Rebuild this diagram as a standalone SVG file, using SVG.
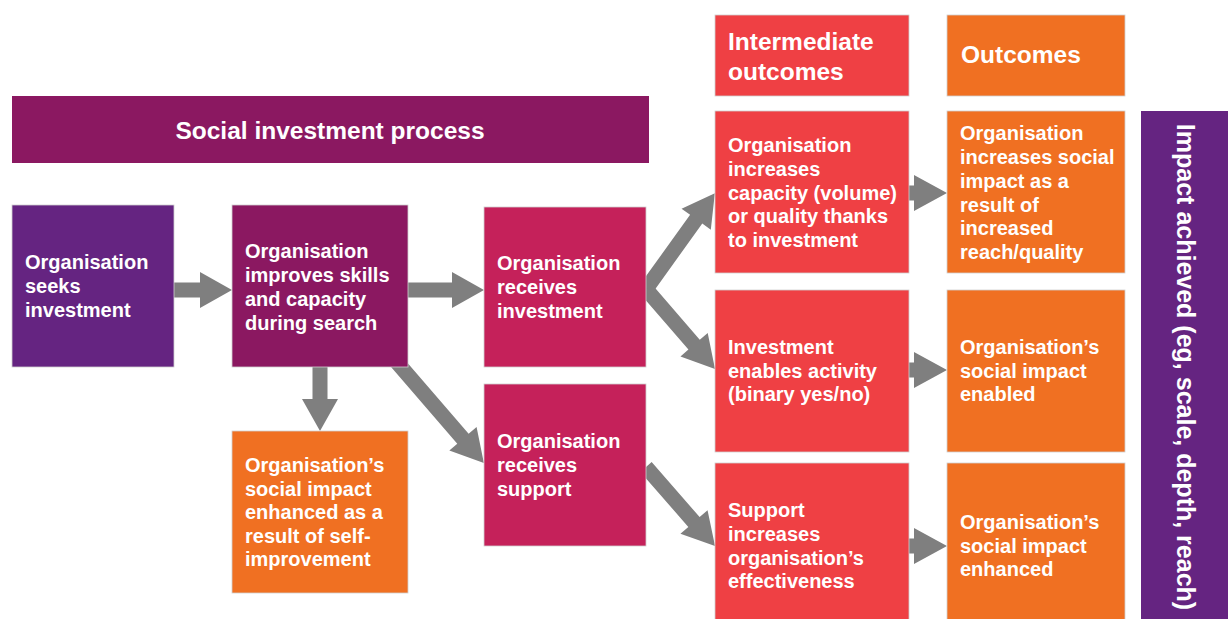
<svg xmlns="http://www.w3.org/2000/svg" width="1228" height="619" viewBox="0 0 1228 619">
<style>
.t{font-family:"Liberation Sans",Arial,sans-serif;font-weight:bold;fill:#fff;font-size:20px}
.h{font-size:24.5px}
.box{stroke:#d0d0d0;stroke-width:0.8}
.pu{fill:#652481}.pl{fill:#8B1861}.mg{fill:#C5215A}.or{fill:#F07022}.rd{fill:#EF4044}
.ar{fill:#7F7F7F}
</style>
<rect width="1228" height="619" fill="#fff"/>
<g id="connectors">
<path class="ar" transform="translate(170,290)" d="M0,-7.5 H30 V-18 L62,0 L30,18 V7.5 H0 Z"/>
<path class="ar" transform="translate(404,290)" d="M0,-7.5 H48 V-18 L80,0 L48,18 V7.5 H0 Z"/>
<path class="ar" transform="translate(320,362) rotate(90)" d="M0,-7.5 H37 V-18 L69,0 L37,18 V7.5 H0 Z"/>
<path class="ar" transform="translate(395,360) rotate(49.2)" d="M0,-7.5 H104 V-18 L136,0 L104,18 V7.5 H0 Z"/>
<path class="ar" transform="translate(646,289) rotate(-54.3)" d="M0,-7.5 H86 V-18 L118,0 L86,18 V7.5 H0 Z"/>
<path class="ar" transform="translate(646,289) rotate(49.2)" d="M0,-7.5 H73.6 V-18 L105.6,0 L73.6,18 V7.5 H0 Z"/>
<path class="ar" transform="translate(646,467) rotate(48.9)" d="M0,-7.5 H73 V-18 L105,0 L73,18 V7.5 H0 Z"/>
<path class="ar" transform="translate(905,193)" d="M0,-7.5 H9 V-18 L42,0 L9,18 V7.5 H0 Z"/>
<path class="ar" transform="translate(905,370)" d="M0,-7.5 H9 V-18 L42,0 L9,18 V7.5 H0 Z"/>
<path class="ar" transform="translate(905,546)" d="M0,-7.5 H9 V-18 L42,0 L9,18 V7.5 H0 Z"/>
</g>
<g id="header-process">
<rect class="pl" x="12" y="96" width="637" height="67"/>
<text class="t h" x="330" y="139" text-anchor="middle">Social investment process</text>
</g>
<g id="header-intermediate">
<rect class="rd box" x="715" y="15" width="194" height="81"/>
<text class="t h" x="728" y="50">Intermediate</text>
<text class="t h" x="728" y="80">outcomes</text>
</g>
<g id="header-outcomes">
<rect class="or box" x="947" y="15" width="178" height="81"/>
<text class="t h" x="961" y="63">Outcomes</text>
</g>
<g id="node-seeks">
<rect class="pu box" x="12" y="205" width="162" height="162"/>
<text class="t" x="25" y="269">Organisation</text>
<text class="t" x="25" y="293">seeks</text>
<text class="t" x="25" y="317">investment</text>
</g>
<g id="node-improves">
<rect class="pl box" x="232" y="205" width="176" height="162"/>
<text class="t" x="245" y="258">Organisation</text>
<text class="t" x="245" y="282">improves skills</text>
<text class="t" x="245" y="306">and capacity</text>
<text class="t" x="245" y="330">during search</text>
</g>
<g id="node-receives-investment">
<rect class="mg box" x="484" y="207" width="162" height="160"/>
<text class="t" x="497" y="270">Organisation</text>
<text class="t" x="497" y="294">receives</text>
<text class="t" x="497" y="318">investment</text>
</g>
<g id="node-receives-support">
<rect class="mg box" x="484" y="384" width="162" height="162"/>
<text class="t" x="497" y="448">Organisation</text>
<text class="t" x="497" y="472">receives</text>
<text class="t" x="497" y="496">support</text>
</g>
<g id="node-self-improvement">
<rect class="or box" x="232" y="431" width="176" height="162"/>
<text class="t" x="245" y="472">Organisation’s</text>
<text class="t" x="245" y="496">social impact</text>
<text class="t" x="245" y="519">enhanced as a</text>
<text class="t" x="245" y="543">result of self-</text>
<text class="t" x="245" y="566">improvement</text>
</g>
<g id="node-int-capacity">
<rect class="rd box" x="715" y="111" width="194" height="162"/>
<text class="t" x="728" y="152">Organisation</text>
<text class="t" x="728" y="176">increases</text>
<text class="t" x="728" y="200">capacity (volume)</text>
<text class="t" x="728" y="223">or quality thanks</text>
<text class="t" x="728" y="247">to investment</text>
</g>
<g id="node-int-activity">
<rect class="rd box" x="715" y="290" width="194" height="162"/>
<text class="t" x="728" y="354">Investment</text>
<text class="t" x="728" y="378">enables activity</text>
<text class="t" x="728" y="401">(binary yes/no)</text>
</g>
<g id="node-int-support">
<rect class="rd box" x="715" y="463" width="194" height="160"/>
<text class="t" x="728" y="517">Support</text>
<text class="t" x="728" y="541">increases</text>
<text class="t" x="728" y="565">organisation’s</text>
<text class="t" x="728" y="588">effectiveness</text>
</g>
<g id="node-out-reach">
<rect class="or box" x="947" y="111" width="178" height="162"/>
<text class="t" x="960" y="140">Organisation</text>
<text class="t" x="960" y="164">increases social</text>
<text class="t" x="960" y="188">impact as a</text>
<text class="t" x="960" y="212">result of</text>
<text class="t" x="960" y="235">increased</text>
<text class="t" x="960" y="259">reach/quality</text>
</g>
<g id="node-out-enabled">
<rect class="or box" x="947" y="290" width="178" height="162"/>
<text class="t" x="960" y="354">Organisation’s</text>
<text class="t" x="960" y="378">social impact</text>
<text class="t" x="960" y="401">enabled</text>
</g>
<g id="node-out-enhanced">
<rect class="or box" x="947" y="463" width="178" height="160"/>
<text class="t" x="960" y="529">Organisation’s</text>
<text class="t" x="960" y="553">social impact</text>
<text class="t" x="960" y="576">enhanced</text>
</g>
<g id="node-impact">
<rect class="pu" x="1141" y="111" width="90" height="512"/>
<text class="t" style="font-size:25px" transform="translate(1177,367) rotate(90)" text-anchor="middle">Impact achieved (eg, scale, depth, reach)</text>
</g>
</svg>
